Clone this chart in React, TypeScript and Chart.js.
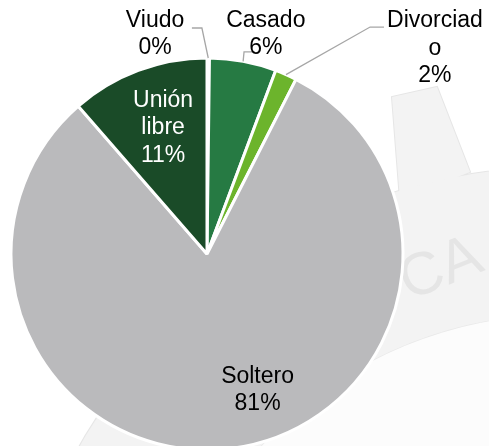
import React, { useEffect, useRef } from "react";
import { Chart, registerables } from "chart.js";

Chart.register(...registerables);

// ---- data ----
const categories = ["Viudo", "Casado", "Divorciado", "Soltero", "Unión libre"];
const shares = [0.2, 5.5, 1.8, 81.1, 11.4];
const percentLabels = ["0%", "6%", "2%", "81%", "11%"];
const nameLines = [["Viudo"], ["Casado"], ["Divorciad", "o"], ["Soltero"], ["Unión", "libre"]];
const sliceColors = ["#ffffff", "#267a43", "#6cb42c", "#bababc", "#1a4b28"];
const labelColors = ["#000000", "#000000", "#000000", "#000000", "#ffffff"];

// label anchor (centre x, first baseline) in units of pie radius, relative to pie centre
const labelAnchors = [
  [-0.265, -1.16],
  [0.3, -1.16],
  [1.163, -1.157],
  [0.258, 0.657],
  [-0.224, -0.752],
];
// leader lines: [start, elbow] in radius units (null = no leader)
const leaders: (number[][] | null)[] = [
  [[-0.077, -1.153], [-0.026, -1.153]],
  [[0.245, -1.031], [0.189, -1.031]],
  [[0.903, -1.158], [0.832, -1.158]],
  null,
  null,
];

const FONT = '23px "Liberation Sans", Arial, sans-serif';
const LINE_H = 27.5;

const watermarkPlugin = {
  id: "watermark",
  beforeDraw(chart: any) {
    const ctx = chart.ctx as CanvasRenderingContext2D;
    ctx.save();
    const cx = 560, cy = 720, rOut = 553, rIn = 405;
    const tooth = () => {
      ctx.beginPath();
      ctx.moveTo(400, 200);
      ctx.lineTo(392, 97);
      ctx.lineTo(437, 87);
      ctx.lineTo(470, 172);
      ctx.closePath();
    };
    const ring = () => {
      ctx.beginPath();
      ctx.arc(cx, cy, rOut, 0, Math.PI * 2);
    };
    ctx.strokeStyle = "#e6e6e6";
    ctx.lineWidth = 2;
    tooth();
    ctx.stroke();
    ring();
    ctx.stroke();
    ctx.fillStyle = "#f3f3f3";
    tooth();
    ctx.fill();
    ring();
    ctx.fill();
    ctx.beginPath();
    ctx.arc(cx, cy, rIn, 0, Math.PI * 2);
    ctx.strokeStyle = "#e9e9e9";
    ctx.lineWidth = 1.5;
    ctx.stroke();
    ctx.fillStyle = "#fcfcfc";
    ctx.fill();
    // faint letters
    ctx.translate(441, 270);
    ctx.rotate(-0.38);
    ctx.font = '60px "Liberation Sans", Arial, sans-serif';
    ctx.fillStyle = "#e5e5e5";
    ctx.textAlign = "center";
    ctx.textBaseline = "middle";
    ctx.fillText("CA", 0, 0);
    ctx.restore();
  },
};

const labelsPlugin = {
  id: "pieLabels",
  afterDraw(chart: any) {
    const ctx = chart.ctx as CanvasRenderingContext2D;
    const meta = chart.getDatasetMeta(0);
    ctx.save();
    meta.data.forEach((arc: any, i: number) => {
      const { x, y, outerRadius, startAngle, endAngle } = arc.getProps(
        ["x", "y", "outerRadius", "startAngle", "endAngle"],
        true
      );
      const r = outerRadius;
      const ld = leaders[i];
      if (ld) {
        const mid = (startAngle + endAngle) / 2;
        ctx.beginPath();
        ctx.moveTo(x + ld[0][0] * r, y + ld[0][1] * r);
        ctx.lineTo(x + ld[1][0] * r, y + ld[1][1] * r);
        ctx.lineTo(x + Math.cos(mid) * r, y + Math.sin(mid) * r);
        ctx.strokeStyle = "#a6a6a6";
        ctx.lineWidth = 1.3;
        ctx.stroke();
      }
      const lines = [...nameLines[i], percentLabels[i]];
      const ax = x + labelAnchors[i][0] * r;
      const ay = y + labelAnchors[i][1] * r;
      ctx.font = FONT;
      ctx.fillStyle = labelColors[i];
      ctx.textAlign = "center";
      ctx.textBaseline = "alphabetic";
      lines.forEach((t, k) => ctx.fillText(t, ax, ay + k * LINE_H));
    });
    ctx.restore();
  },
};

export default function App() {
  const ref = useRef<HTMLCanvasElement | null>(null);
  useEffect(() => {
    if (!ref.current) return;
    const chart = new Chart(ref.current, {
      type: "pie",
      data: {
        labels: categories,
        datasets: [
          {
            data: shares,
            backgroundColor: sliceColors,
            borderColor: "#ffffff",
            borderWidth: 3,
            radius: 196,
          } as any,
        ],
      },
      options: {
        responsive: false,
        animation: false,
        devicePixelRatio: 1,
        radius: 196,
        layout: { padding: { left: 0, top: 0, bottom: 0, right: 75 } },
        plugins: { legend: { display: false }, tooltip: { enabled: false } },
        events: [],
      } as any,
      plugins: [watermarkPlugin, labelsPlugin],
    });
    return () => chart.destroy();
  }, []);
  return (
    <div
      style={{
        position: "fixed",
        left: 0,
        top: 0,
        width: 489,
        height: 446,
        overflow: "hidden",
        background: "#ffffff",
      }}
    >
      <canvas ref={ref} width={489} height={508} style={{ display: "block" }} />
    </div>
  );
}
